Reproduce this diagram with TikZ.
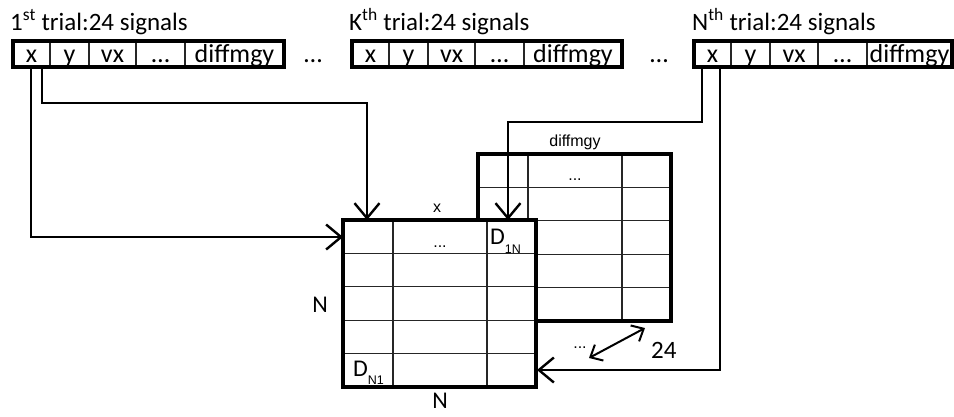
\documentclass[tikz,border=0pt]{standalone}
\usepackage{fontspec}
\setmainfont{Carlito}
\newfontfamily\labfont{Liberation Sans}
\newcommand\subtextfont{\labfont\fontsize{12.5}{13}\selectfont}
\usetikzlibrary{arrows.meta}
\begin{document}
\begin{tikzpicture}[x=1pt,y=-1pt,
  outerline/.style={line width=3.5pt},
  innerline/.style={line width=1.3pt, black!85},
  conn/.style={line width=2.4pt, -{Straight Barb[length=15pt,width=25pt,line width=2.4pt]}},
  dbl/.style={line width=2pt, {Straight Barb[length=10pt,width=18pt,line width=2pt]}-{Straight Barb[length=10pt,width=18pt,line width=2pt]}},
  celltext/.style={anchor=base, inner sep=0pt, font=\fontsize{26}{30}\selectfont},
  titletext/.style={anchor=base west, inner sep=0pt, font=\fontsize{25}{28}\selectfont},
  bigtext/.style={inner sep=0pt, font=\fontsize{24}{28}\selectfont},
  smalltext/.style={anchor=base, inner sep=0pt, font=\labfont\fontsize{16}{19}\selectfont},
]
\useasboundingbox (0,0) rectangle (954,416);

% ---------- signal arrays ----------
\node[titletext] (t1) at (10,30) {1\textsuperscript{st} trial:24 signals};
\node[titletext] (tk) at (349,30) {K\textsuperscript{th} trial:24 signals};
\node[titletext] (tn) at (692,30) {N\textsuperscript{th} trial:24 signals};

% array 1
\foreach \xa in {50,89,136,185} \draw[innerline] (\xa,41) -- (\xa,67);
\draw[outerline] (13,41) rectangle (284,67);
\node[celltext] (a1x) at (31.5,62) {x};
\node[celltext] (a1y) at (69.5,62) {y};
\node[celltext] (a1vx) at (112.5,62) {vx};
\node[celltext] (a1d) at (160.5,62) {…};
\node[celltext] (a1g) at (234.5,62) {diffmgy};
% array K
\foreach \xa in {389,428,475,524} \draw[innerline] (\xa,41) -- (\xa,67);
\draw[outerline] (352,41) rectangle (622,67);
\node[celltext] (akx) at (370.5,62) {x};
\node[celltext] (aky) at (408.5,62) {y};
\node[celltext] (akvx) at (451.5,62) {vx};
\node[celltext] (akd) at (499.5,62) {…};
\node[celltext] (akg) at (573,62) {diffmgy};
% array N
\foreach \xa in {731,770,818,867} \draw[innerline] (\xa,41) -- (\xa,67);
\draw[outerline] (694,41) rectangle (952,67);
\node[celltext] (anx) at (712.5,62) {x};
\node[celltext] (any) at (750.5,62) {y};
\node[celltext] (anvx) at (794,62) {vx};
\node[celltext] (and) at (842.5,62) {…};
\node[celltext] (ang) at (909.5,62) {diffmgy};

\node[celltext] (gap1) at (313,62) {…};
\node[celltext] (gap2) at (659,62) {…};

% ---------- back matrix (diffmgy) ----------
\foreach \xa in {528,622} \draw[innerline] (\xa,154) -- (\xa,321);
\foreach \ya in {187.4,220.8,254.2,287.6} \draw[innerline] (478,\ya) -- (671,\ya);
\draw[outerline] (478,154) rectangle (671,321);
\node[smalltext] (lgy) at (575,146) {diffmgy};
\node[smalltext] (bdots) at (575,180) {...};

% ---------- front matrix (x) ----------
\fill[white] (343,220) rectangle (536,387);
\foreach \xa in {393,487} \draw[innerline] (\xa,220) -- (\xa,387);
\foreach \ya in {253.4,286.8,320.2,353.6} \draw[innerline] (343,\ya) -- (536,\ya);
\draw[outerline] (343,220) rectangle (536,387);
\node[smalltext] (lx) at (437,212) {x};
\node[smalltext] (fdots) at (440,247) {...};
\node[anchor=base west, inner sep=0pt, font=\fontsize{24}{26}\selectfont] (d1n) at (490,244) {D\raisebox{-9pt}{\subtextfont 1N}};
\node[anchor=base west, inner sep=0pt, font=\fontsize{24}{26}\selectfont] (dn1) at (353,376) {D\raisebox{-8pt}{\subtextfont N1}};

\node[bigtext] (nleft) at (320,305) {N};
\node[bigtext] (nbot) at (440,401) {N};
\node[smalltext] (ddots) at (580,348) {...};
\node[anchor=base west, inner sep=0pt, font=\fontsize{25}{28}\selectfont] (n24) at (651,358) {24};
\coordinate (dA) at (589,358);
\coordinate (dB) at (645,328);
\draw[dbl] (dA) -- (dB);

% ---------- connectors ----------
\coordinate (s1a) at (31,67);
\coordinate (s1b) at (42,67);
\coordinate (sna) at (702,67);
\coordinate (snb) at (720,67);
\coordinate (e1) at (343,237);
\coordinate (e2) at (367,220);
\coordinate (e3) at (508,220);
\coordinate (e4) at (537,370);
\draw[conn] (s1a) |- (e1);
\draw[conn] (s1b) -- (42,103) -| (e2);
\draw[conn] (sna) -- (702,122) -| (e3);
\draw[conn] (snb) |- (e4);
\end{tikzpicture}
\end{document}
